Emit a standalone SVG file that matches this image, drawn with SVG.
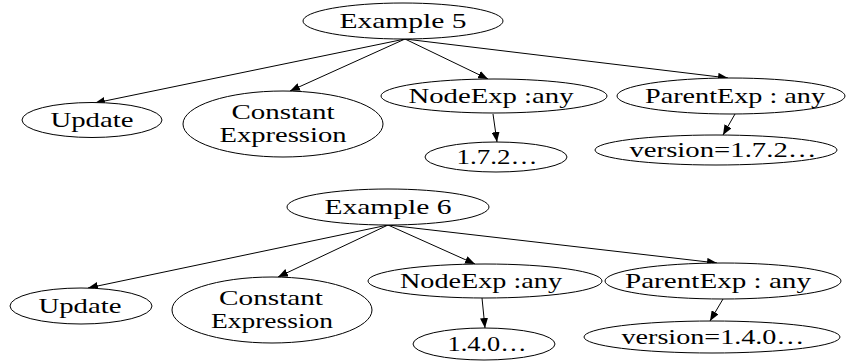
<svg xmlns="http://www.w3.org/2000/svg" width="846" height="362" viewBox="0 0 846 362">
  <defs>
    <marker id="arrow" markerUnits="userSpaceOnUse" markerWidth="10" markerHeight="8" refX="10" refY="4" orient="auto">
      <path d="M0,0 L10,4 L0,8 z" fill="#000"/>
    </marker>
    <style>
      .node ellipse { fill: #fff; stroke: #000; stroke-width: 1; }
      .node text { font-family: "Liberation Serif", "Times New Roman", serif; font-size: 21px; fill: #000; text-anchor: middle; }
      .edges line { stroke: #000; stroke-width: 1; marker-end: url(#arrow); }
    </style>
  </defs>
  <rect width="846" height="362" fill="#fff"/>

  <!-- Tree 1: Example 5 -->
  <g class="edges" id="edges-ex5">
    <line x1="405" y1="39" x2="95" y2="103"/>
    <line x1="405" y1="39" x2="290" y2="91"/>
    <line x1="405" y1="39" x2="488" y2="79"/>
    <line x1="405" y1="39" x2="728" y2="78"/>
    <line x1="493" y1="114" x2="497" y2="142"/>
    <line x1="735" y1="114" x2="723" y2="135"/>
  </g>
  <g class="node" id="ex5">
    <ellipse cx="403" cy="21" rx="100" ry="18"/>
    <text x="403" y="28" textLength="127" lengthAdjust="spacingAndGlyphs">Example 5</text>
  </g>
  <g class="node" id="ex5-update">
    <ellipse cx="92" cy="120" rx="70" ry="17.5"/>
    <text x="92" y="127" textLength="83" lengthAdjust="spacingAndGlyphs">Update</text>
  </g>
  <g class="node" id="ex5-constant">
    <ellipse cx="283" cy="124" rx="100" ry="33"/>
    <text x="283" y="119" textLength="103" lengthAdjust="spacingAndGlyphs">Constant</text>
    <text x="283" y="142" textLength="127" lengthAdjust="spacingAndGlyphs">Expression</text>
  </g>
  <g class="node" id="ex5-nodeexp">
    <ellipse cx="494" cy="96" rx="113" ry="17"/>
    <text x="491" y="103" textLength="165" lengthAdjust="spacingAndGlyphs">NodeExp :any</text>
  </g>
  <g class="node" id="ex5-parentexp">
    <ellipse cx="731" cy="96" rx="114" ry="18"/>
    <text x="735" y="103" textLength="180" lengthAdjust="spacingAndGlyphs">ParentExp : any</text>
  </g>
  <g class="node" id="ex5-nodever">
    <ellipse cx="496" cy="157" rx="71" ry="15"/>
    <text x="497" y="164" textLength="81" lengthAdjust="spacingAndGlyphs">1.7.2…</text>
  </g>
  <g class="node" id="ex5-parentver">
    <ellipse cx="716" cy="150" rx="121" ry="15"/>
    <text x="723" y="157" textLength="187" lengthAdjust="spacingAndGlyphs">version=1.7.2…</text>
  </g>

  <!-- Tree 2: Example 6 -->
  <g class="edges" id="edges-ex6">
    <line x1="388" y1="225" x2="88" y2="288"/>
    <line x1="388" y1="225" x2="278" y2="277"/>
    <line x1="388" y1="225" x2="475" y2="264"/>
    <line x1="388" y1="225" x2="717" y2="263"/>
    <line x1="482" y1="298" x2="485" y2="328"/>
    <line x1="723" y1="299" x2="710" y2="321"/>
  </g>
  <g class="node" id="ex6">
    <ellipse cx="388" cy="207" rx="101" ry="18"/>
    <text x="388" y="214" textLength="127" lengthAdjust="spacingAndGlyphs">Example 6</text>
  </g>
  <g class="node" id="ex6-update">
    <ellipse cx="81" cy="306" rx="71" ry="18"/>
    <text x="80" y="313" textLength="83" lengthAdjust="spacingAndGlyphs">Update</text>
  </g>
  <g class="node" id="ex6-constant">
    <ellipse cx="272" cy="310" rx="100" ry="33"/>
    <text x="271" y="305" textLength="104" lengthAdjust="spacingAndGlyphs">Constant</text>
    <text x="272" y="328" textLength="122" lengthAdjust="spacingAndGlyphs">Expression</text>
  </g>
  <g class="node" id="ex6-nodeexp">
    <ellipse cx="485" cy="281" rx="117" ry="17"/>
    <text x="481" y="288" textLength="162" lengthAdjust="spacingAndGlyphs">NodeExp :any</text>
  </g>
  <g class="node" id="ex6-parentexp">
    <ellipse cx="723" cy="281" rx="118" ry="18"/>
    <text x="718" y="288" textLength="186" lengthAdjust="spacingAndGlyphs">ParentExp : any</text>
  </g>
  <g class="node" id="ex6-nodever">
    <ellipse cx="484" cy="344" rx="71" ry="16"/>
    <text x="487" y="351" textLength="79" lengthAdjust="spacingAndGlyphs">1.4.0…</text>
  </g>
  <g class="node" id="ex6-parentver">
    <ellipse cx="712" cy="337" rx="128" ry="16"/>
    <text x="713" y="344" textLength="183" lengthAdjust="spacingAndGlyphs">version=1.4.0…</text>
  </g>
</svg>
